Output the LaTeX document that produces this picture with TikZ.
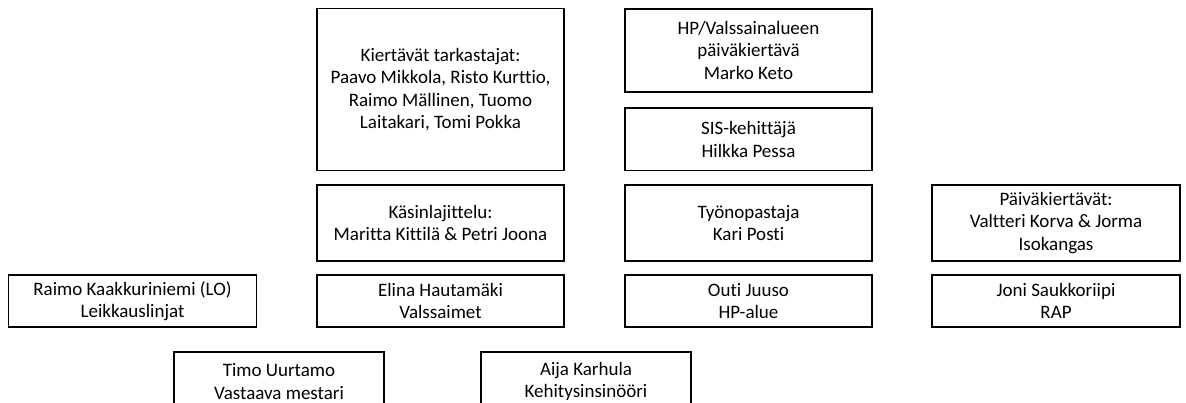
\documentclass[tikz,border=0pt]{standalone}
\usepackage{fontspec}
\setmainfont[Ligatures={NoCommon}]{Carlito}
\tikzset{
  orgbox/.style={draw=black, line width=1.8pt, align=center, inner sep=0pt,
    font=\fontsize{19}{22.6}\selectfont, minimum width=247pt},
}
\begin{document}
\begin{tikzpicture}[x=1pt,y=-1pt]
\useasboundingbox (0,0) rectangle (1186,403);
\clip (0,0) rectangle (1186,403);
\node[orgbox, minimum height=162pt] (kier) at (440.5,89.6) {Kiertävät tarkastajat:\\Paavo Mikkola, Risto Kurttio,\\Raimo Mällinen, Tuomo\\Laitakari, Tomi Pokka};
\node[orgbox, minimum height=83pt] (hp) at (748.5,50.4) {HP/Valssainalueen\\päiväkiertävä\\Marko Keto};
\node[orgbox, minimum height=62.5pt] (sis) at (748.5,139.2) {SIS-kehittäjä\\Hilkka Pessa};
\node[orgbox, minimum height=76pt] (kasin) at (440.5,223) {Käsinlajittelu:\\Maritta Kittilä \& Petri Joona};
\node[orgbox, minimum height=76pt] (tyo) at (748.5,223) {Työnopastaja\\Kari Posti};
\node[orgbox, minimum height=76pt, minimum width=248pt] (paiva) at (1056,223) {Päiväkiertävät:\\Valtteri Korva \& Jorma\\Isokangas};
\node[orgbox, minimum height=52pt, minimum width=248pt] (raimo) at (132.5,301) {Raimo Kaakkuriniemi (LO)\\Leikkauslinjat};
\node[orgbox, minimum height=52pt] (elina) at (440.5,301) {Elina Hautamäki\\Valssaimet};
\node[orgbox, minimum height=52pt] (outi) at (748.5,301) {Outi Juuso\\HP-alue};
\node[orgbox, minimum height=52pt, minimum width=248pt] (joni) at (1056,301) {Joni Saukkoriipi\\RAP};
\node[orgbox, minimum height=59pt, minimum width=210pt] (timo) at (279,381.5) {Timo Uurtamo\\Vastaava mestari};
\node[orgbox, minimum height=59pt, minimum width=210pt] (aija) at (586,381.5) {Aija Karhula\\Kehitysinsinööri};
\end{tikzpicture}
\end{document}
